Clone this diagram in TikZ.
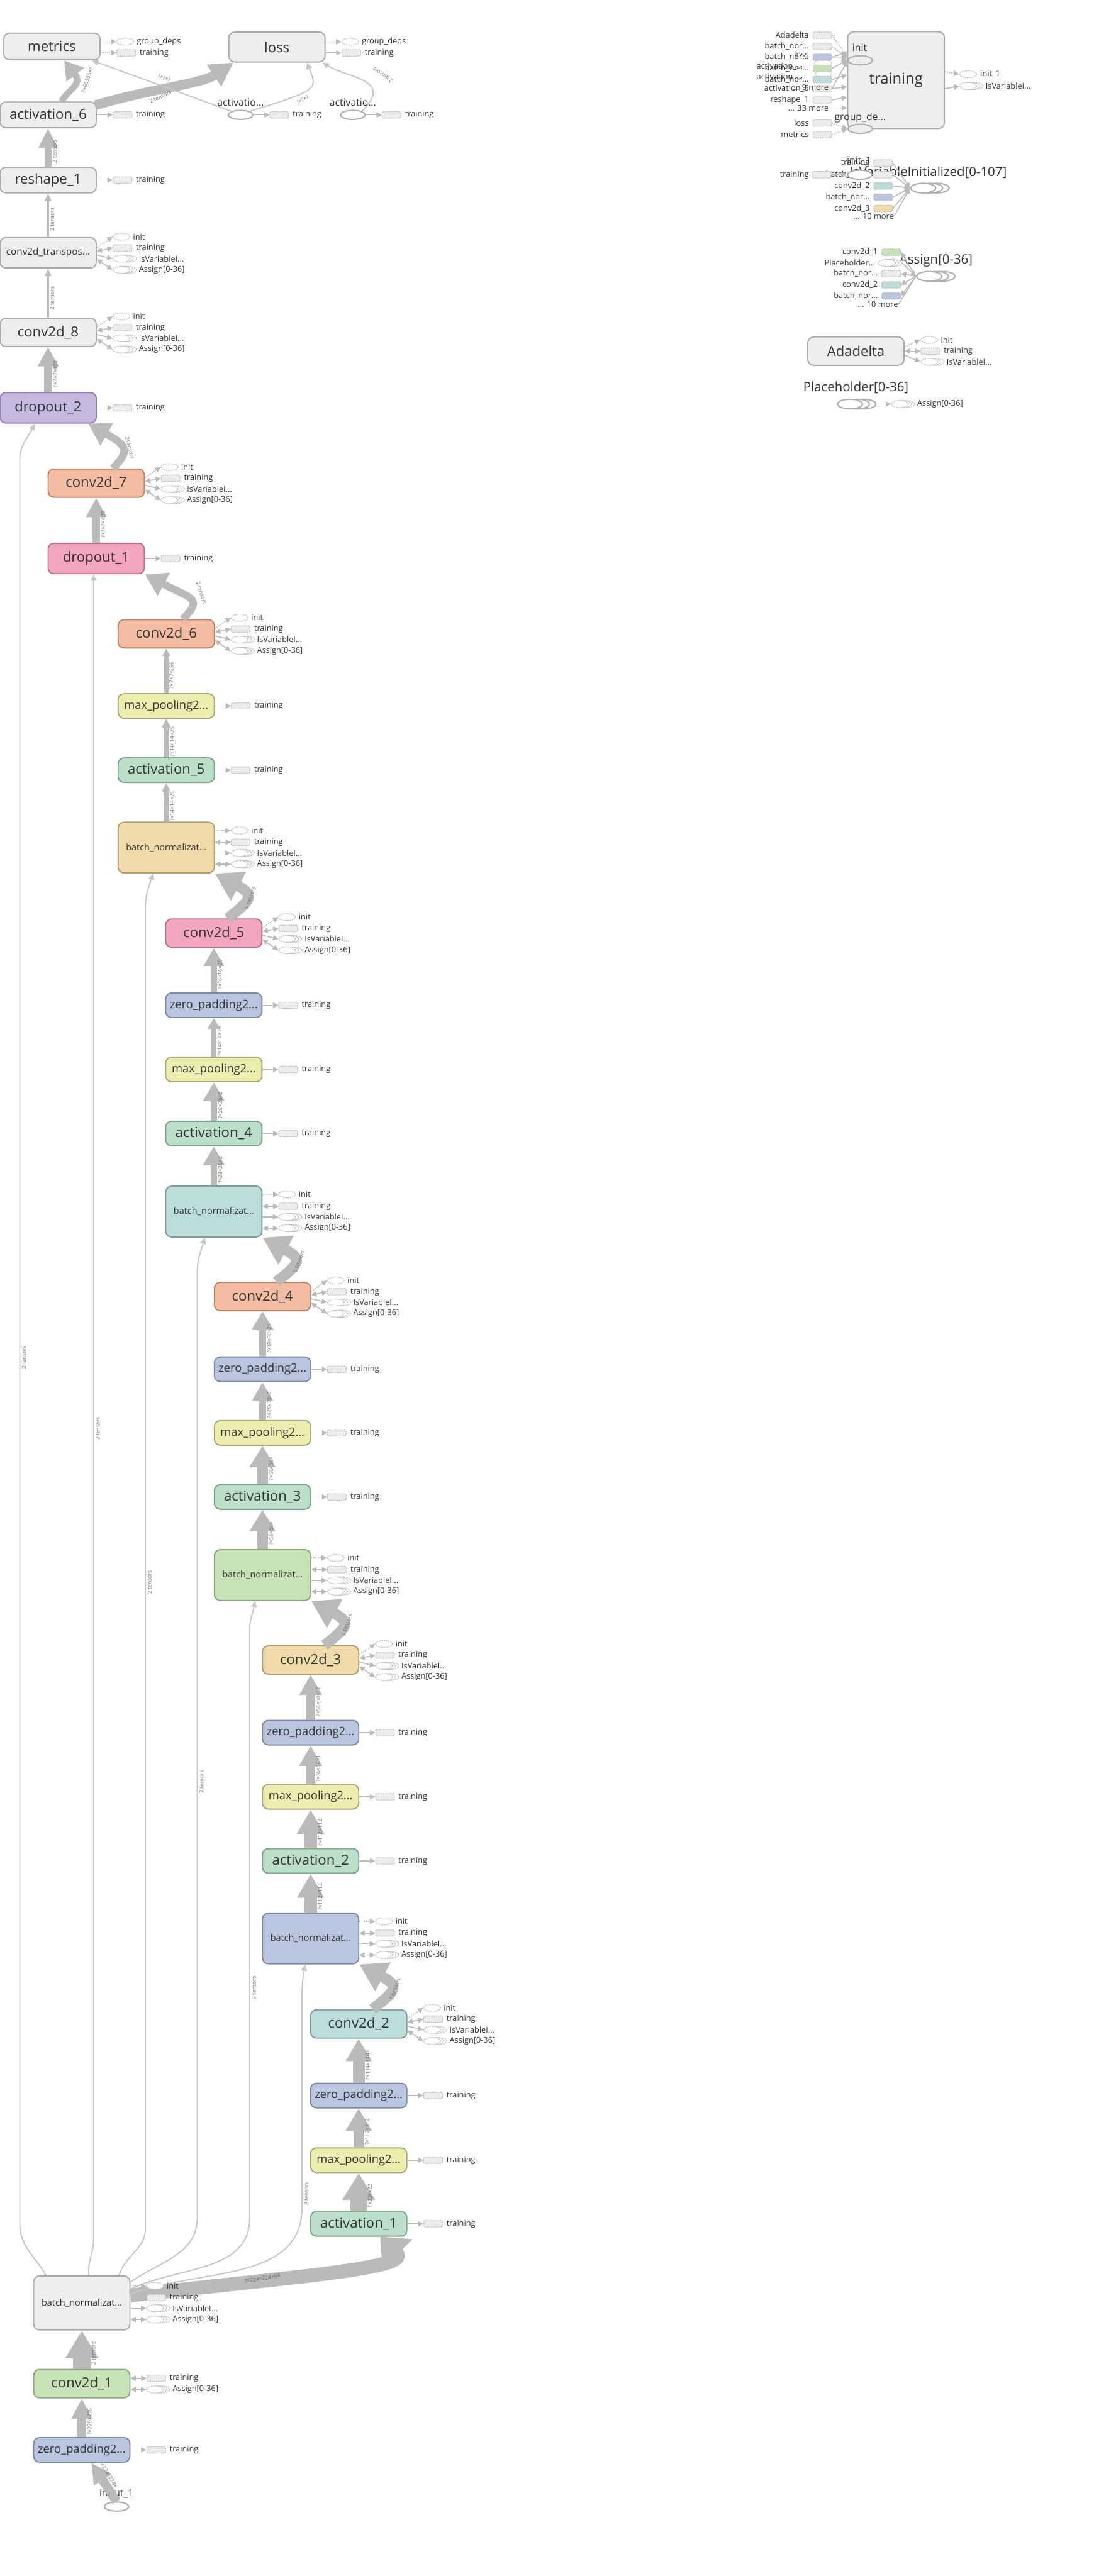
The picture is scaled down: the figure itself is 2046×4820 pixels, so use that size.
\documentclass[tikz,border=0pt]{standalone}
\usepackage{fontspec}
\setmainfont{Open Sans}
\usetikzlibrary{arrows.meta,calc,shapes.geometric}

\definecolor{ink}{HTML}{333333}
\definecolor{grayfill}{HTML}{EEEEEE}
\definecolor{grayline}{HTML}{AAAAAA}
\definecolor{purplef}{HTML}{C6B8E0}
\definecolor{purplel}{HTML}{8F80AE}
\definecolor{salmonf}{HTML}{F4BDA3}
\definecolor{salmonl}{HTML}{B4856C}
\definecolor{pinkf}{HTML}{F4A6C1}
\definecolor{pinkl}{HTML}{B3738B}
\definecolor{yellowf}{HTML}{EEEDB0}
\definecolor{yellowl}{HTML}{A8A775}
\definecolor{mintf}{HTML}{BCDFC9}
\definecolor{mintl}{HTML}{7FA08B}
\definecolor{tanf}{HTML}{F0DAA9}
\definecolor{tanl}{HTML}{B09C72}
\definecolor{bluef}{HTML}{BAC5DF}
\definecolor{bluel}{HTML}{7E88A0}
\definecolor{tealf}{HTML}{BDDCDC}
\definecolor{teall}{HTML}{819A9A}
\definecolor{greenf}{HTML}{C7E2B6}
\definecolor{greenl}{HTML}{8CA480}
\definecolor{arrgray}{HTML}{BABABA}
\definecolor{thingray}{HTML}{C6C6C6}
\definecolor{sideline}{HTML}{BBBBBB}
\definecolor{sidefill}{HTML}{ECECEC}
\definecolor{bellline}{HTML}{B0B0B0}
\definecolor{labgray}{HTML}{6E6E6E}

\newcommand{\bigf}{\fontsize{26}{28}\selectfont}
\newcommand{\midf}{\fontsize{21.5}{24}\selectfont}
\newcommand{\bnf}{\fontsize{17}{19}\selectfont}
\newcommand{\transf}{\fontsize{18}{20}\selectfont}
\newcommand{\sidef}{\fontsize{15}{16}\selectfont}
\newcommand{\edgef}{\fontsize{10}{11}\selectfont}
\newcommand{\olabf}{\fontsize{18.5}{20}\selectfont}
\newcommand{\biglabf}{\fontsize{24}{26}\selectfont}
\newcommand{\grpf}{\fontsize{28}{30}\selectfont}

\tikzset{
  op/.style={rectangle, rounded corners=11pt, line width=2.2pt, minimum width=180pt,
    minimum height=53pt, inner sep=0pt, text=ink, font=\bigf},
  short/.style={minimum height=46pt, font=\midf},
  tall/.style={minimum height=95pt, font=\bnf},
  cgray/.style={fill=grayfill, draw=grayline},
  cpurple/.style={fill=purplef, draw=purplel},
  csalmon/.style={fill=salmonf, draw=salmonl},
  cpink/.style={fill=pinkf, draw=pinkl},
  cyellow/.style={fill=yellowf, draw=yellowl},
  cmint/.style={fill=mintf, draw=mintl},
  ctan/.style={fill=tanf, draw=tanl},
  cblue/.style={fill=bluef, draw=bluel},
  cteal/.style={fill=tealf, draw=teall},
  cgreen/.style={fill=greenf, draw=greenl},
  bell/.style={ellipse, draw=bellline, line width=2.5pt, fill=white,
    minimum width=46pt, minimum height=17pt, inner sep=0pt},
  olab/.style={font=\olabf, text=ink, inner sep=0pt},
  biglab/.style={font=\biglabf, text=ink, inner sep=0pt},
  iell/.style={ellipse, draw=sideline, line width=1.3pt, dash pattern=on 2.5pt off 1.5pt,
    fill=white, minimum width=32pt, minimum height=13pt, inner sep=0pt},
  tbox/.style={rectangle, rounded corners=2pt, draw=sideline, line width=1.3pt,
    dash pattern=on 2.5pt off 1.5pt, fill=sidefill, minimum width=35pt,
    minimum height=12pt, inner sep=0pt},
  sdash/.style={draw=sideline, line width=1.3pt, dash pattern=on 2.5pt off 1.5pt, fill=white},
  stackline/.style={draw=bellline, line width=2.5pt, fill=white},
  slab/.style={anchor=west, font=\sidef, text=ink, inner sep=0pt},
  rlab/.style={anchor=east, font=\sidef, text=ink, inner sep=0pt},
  sarr/.style={draw=arrgray, line width=1.8pt, -{Triangle[length=10pt,width=10pt]}},
  sdot/.style={sarr, dash pattern=on 2pt off 2pt},
  sboth/.style={sarr, {Triangle[length=10pt,width=10pt]}-{Triangle[length=10pt,width=10pt]}},
  fatbend/.style={draw=arrgray, line width=20pt, -{Triangle[length=50pt,width=58pt]}},
  thinl/.style={draw=thingray, line width=2.2pt, -{Triangle[length=12pt,width=11pt]}},
  elab/.style={font=\edgef, text=labgray, inner sep=0pt, rotate=90, anchor=north},
  blab/.style={font=\edgef, text=labgray, inner sep=0pt},
}

% small dashed stack of ellipses
\newcommand{\minist}[2]{%
  \coordinate (#1-c) at #2;
  \filldraw[sdash] ($(#1-c)+(12,0)$) ellipse [x radius=16pt, y radius=6.5pt];
  \filldraw[sdash] ($(#1-c)+(6,0)$) ellipse [x radius=16pt, y radius=6.5pt];
  \node[iell] (#1) at (#1-c) {};
}
% big solid stack of ellipses
\newcommand{\bigst}[2]{%
  \coordinate (#1-c) at #2;
  \filldraw[stackline] ($(#1-c)+(25,0)$) ellipse [x radius=23.5pt, y radius=9pt];
  \filldraw[stackline] ($(#1-c)+(13,0)$) ellipse [x radius=23.5pt, y radius=9pt];
  \node[bell, minimum width=47pt, minimum height=18pt] (#1) at (#1-c) {};
}
% one "training" output
\newcommand{\trainside}[1]{%
  \node[tbox] (#1-t) at ($(#1.east)+(48,0)$) {};
  \node[slab] (#1-tl) at ($(#1-t.east)+(7,0)$) {training};
  \draw[sarr] (#1.east) -- (#1-t.west);
}
% outputs of a layer with variables
\newcommand{\varside}[1]{%
  \node[iell] (#1-i) at ($(#1.east)+(46,30)$) {};
  \node[slab] (#1-il) at ($(#1-i.east)+(5,0)$) {init};
  \node[tbox] (#1-t) at ($(#1.east)+(48,9)$) {};
  \node[slab] (#1-tl) at ($(#1-t.east)+(7,0)$) {training};
  \minist{#1-v}{($(#1.east)+(46,-11)$)}
  \node[slab] (#1-vl) at ($(#1-v.east)+(16,0)$) {IsVariableI...};
  \minist{#1-a}{($(#1.east)+(46,-32)$)}
  \node[slab] (#1-al) at ($(#1-a.east)+(16,0)$) {Assign[0-36]};
  \draw[sdot] ([yshift=10pt]#1.east) -- (#1-i.west);
  \draw[sboth] ([yshift=3pt]#1.east) -- (#1-t.west);
  \draw[sarr] ([yshift=-4pt]#1.east) -- (#1-v.west);
  \draw[sboth] ([yshift=-12pt]#1.east) -- (#1-a.west);
}
% outputs of a batch norm block
\newcommand{\bnside}[1]{%
  \node[iell] (#1-i) at ($(#1.east)+(46,32)$) {};
  \node[slab] (#1-il) at ($(#1-i.east)+(5,0)$) {init};
  \node[tbox] (#1-t) at ($(#1.east)+(48,10)$) {};
  \node[slab] (#1-tl) at ($(#1-t.east)+(7,0)$) {training};
  \minist{#1-v}{($(#1.east)+(46,-10)$)}
  \node[slab] (#1-vl) at ($(#1-v.east)+(16,0)$) {IsVariableI...};
  \minist{#1-a}{($(#1.east)+(46,-31)$)}
  \node[slab] (#1-al) at ($(#1-a.east)+(16,0)$) {Assign[0-36]};
  \draw[sdot] (#1.east |- #1-i) -- (#1-i.west);
  \draw[sboth] (#1.east |- #1-t) -- (#1-t.west);
  \draw[sarr] (#1.east |- #1-v) -- (#1-v.west);
  \draw[sboth] (#1.east |- #1-a) -- (#1-a.west);
}
% straight main edge: from, to, shaft, head length, head width, label
\newcommand{\flow}[6]{%
  \draw[draw=arrgray, line width=#3pt, -{Triangle[length=#4pt,width=#5pt]}] (#1.north) -- (#2.south);
  \node[elab] (#1-e) at ($(#1.north)!0.4!(#2.south)+(#3/2+2,0)$) {#6};
}
% bent edge from a conv block into the batch norm above it
\newcommand{\fivet}[3]{%
  \draw[fatbend] ([xshift=26pt]#1.north) .. controls +(45,35) and +(75,-40) .. (#2.south east);
  \node[blab, rotate=70] (#1-f) at ($(#1.north)+(68,38)$) {#3};
}

\begin{document}
\begin{tikzpicture}[x=1pt,y=1pt]
  \fill[white] (0,0) rectangle (2046,-4820);
  \useasboundingbox (0,0) rectangle (2046,-4820);

  % Main chain
  \node[op,cgray,minimum height=50pt] (metrics) at (97,-87) {metrics};
  \node[op,cgray,minimum height=56pt] (loss) at (518,-88) {loss};
  \node[op,cgray,minimum height=48pt] (act6) at (90,-215) {activation\_6};
  \node[op,cgray,minimum height=48pt] (resh1) at (90,-337) {reshape\_1};
  \node[op,cgray,minimum height=57pt,font=\transf] (convT) at (90,-473) {conv2d\_transpos...};
  \node[op,cgray] (conv8) at (90,-622) {conv2d\_8};
  \node[op,cpurple,minimum height=57pt] (drop2) at (90,-763) {dropout\_2};
  \node[op,csalmon] (conv7) at (180,-904) {conv2d\_7};
  \node[op,cpink,minimum height=57pt] (drop1) at (180,-1045) {dropout\_1};
  \node[op,csalmon] (conv6) at (311,-1186) {conv2d\_6};
  \node[op,cyellow,short] (pool5) at (311,-1321) {max\_pooling2...};
  \node[op,cmint,short,font=\bigf] (act5) at (311,-1441) {activation\_5};
  \node[op,ctan,tall] (bn5) at (311,-1586) {batch\_normalizat...};
  \node[op,cpink] (conv5) at (400,-1746) {conv2d\_5};
  \node[op,cblue,short] (pad5) at (400,-1881) {zero\_padding2...};
  \node[op,cyellow,short] (pool4) at (400,-2001) {max\_pooling2...};
  \node[op,cmint,short,font=\bigf] (act4) at (400,-2121) {activation\_4};
  \node[op,cteal,tall] (bn4) at (400,-2267) {batch\_normalizat...};
  \node[op,csalmon] (conv4) at (491,-2426) {conv2d\_4};
  \node[op,cblue,short] (pad4) at (491,-2562) {zero\_padding2...};
  \node[op,cyellow,short] (pool3) at (491,-2681) {max\_pooling2...};
  \node[op,cmint,short,font=\bigf] (act3) at (491,-2801) {activation\_3};
  \node[op,cgreen,tall] (bn3) at (491,-2947) {batch\_normalizat...};
  \node[op,ctan] (conv3) at (581,-3106) {conv2d\_3};
  \node[op,cblue,short] (pad3) at (581,-3242) {zero\_padding2...};
  \node[op,cyellow,short] (pool2) at (581,-3362) {max\_pooling2...};
  \node[op,cmint,short,font=\bigf] (act2) at (581,-3482) {activation\_2};
  \node[op,cblue,tall] (bn2) at (581,-3627) {batch\_normalizat...};
  \node[op,cteal] (conv2) at (671,-3787) {conv2d\_2};
  \node[op,cblue,short] (pad2) at (671,-3921) {zero\_padding2...};
  \node[op,cyellow,short] (pool1) at (671,-4042) {max\_pooling2...};
  \node[op,cmint,short,font=\bigf] (act1) at (671,-4161) {activation\_1};
  \node[op,cgray,tall,minimum height=101pt] (bn1) at (153,-4309) {batch\_normalizat...};
  \node[op,cgreen] (conv1) at (153,-4460) {conv2d\_1};
  \node[op,cblue,short] (pad1) at (153,-4584) {zero\_padding2...};
  \node[bell] (input1) at (218,-4690) {};
  \node[olab] (input1-l) at (218,-4666) {input\_1};

  % activation ops beside loss
  \node[bell] (actA) at (450,-215) {};
  \node[olab] (actA-l) at (450,-192) {activatio...};
  \node[bell] (actB) at (660,-215) {};
  \node[olab] (actB-l) at (660,-192) {activatio...};

  % Straight edges
  \draw[draw=arrgray, line width=17pt, -{Triangle[length=38pt,width=36pt]}] (input1.north) -- ([xshift=18pt]pad1.south);
  \node[blab, rotate=-59] (input1-e) at (203,-4630) {?×224×224×};
  \flow{pad1}{conv1}{17}{38}{36}{?×226×226}
  \flow{conv1}{bn1}{32}{52}{58}{2 tensors}
  \flow{act1}{pool1}{30}{50}{58}{?×224×22}
  \flow{pool1}{pad2}{20}{42}{46}{?×112×112}
  \flow{pad2}{conv2}{22}{42}{46}{?×114×114×}
  \flow{bn2}{act2}{24}{45}{48}{?×112×112}
  \flow{act2}{pool2}{24}{45}{48}{?×112×112}
  \flow{pool2}{pad3}{16}{38}{40}{?×56×56×1}
  \flow{pad3}{conv3}{16}{38}{40}{?×58×58×12}
  \flow{bn3}{act3}{20}{40}{46}{?×56×56×}
  \flow{act3}{pool3}{20}{40}{46}{?×56×56×}
  \flow{pool3}{pad4}{13}{35}{37}{?×28×28×2}
  \flow{pad4}{conv4}{13}{35}{39}{?×30×30×25}
  \flow{bn4}{act4}{12}{35}{38}{?×28×28×2}
  \flow{act4}{pool4}{12}{35}{38}{?×28×28×2}
  \flow{pool4}{pad5}{10}{20}{22}{?×14×14×25}
  \flow{pad5}{conv5}{11}{34}{36}{?×16×16×25}
  \flow{bn5}{act5}{10}{16}{16}{?×14×14×25}
  \flow{act5}{pool5}{10}{16}{16}{?×14×14×25}
  \flow{pool5}{conv6}{8}{14}{14}{?×7×7×256}
  \flow{drop1}{conv7}{14}{36}{36}{?×7×7×409}
  \flow{drop2}{conv8}{15}{36}{37}{?×7×7×409}
  \flow{conv8}{convT}{3}{14}{12}{2 tensors}
  \flow{convT}{resh1}{3}{14}{12}{2 tensors}
  \flow{resh1}{act6}{13}{37}{34}{2 tensors}

  % Bent edges
  \fivet{conv5}{bn5}{5 tensors}
  \fivet{conv4}{bn4}{5 tensors}
  \fivet{conv3}{bn3}{5 tensors}
  \fivet{conv2}{bn2}{5 tensors}
  \draw[draw=arrgray, line width=14pt, -{Triangle[length=40pt,width=46pt]}] ([xshift=31pt]conv7.north) .. controls +(35,35) and +(70,-40) .. ([xshift=75pt]drop2.south);
  \node[blab, rotate=-75] (conv7-f) at (243,-838) {2 tensors};
  \draw[draw=arrgray, line width=14pt, -{Triangle[length=40pt,width=46pt]}] ([xshift=31pt]conv6.north) .. controls +(40,40) and +(85,-45) .. (drop1.south east);
  \node[blab, rotate=-72] (conv6-f) at (377,-1110) {2 tensors};
  \draw[draw=arrgray, line width=26pt, -{Triangle[length=46pt,width=76pt]}] ([yshift=14pt]bn1.east) .. controls +(300,35) and +(60,-60) .. ([xshift=40pt]act1.south);
  \node[blab, rotate=9, text=black!60] (bn1-f) at (491,-4263) {?×224×224×64};

  % Long edges out of the first batch norm
  \draw[thinl] ([xshift=-67pt]bn1.north) to[out=120,in=-90] (37,-4160) -- (37,-860) to[out=90,in=-115] ([xshift=-25pt]drop2.south);
  \draw[thinl] ([xshift=13pt]bn1.north) to[out=95,in=-90] (175,-4190) -- ([xshift=-5pt]drop1.south);
  \draw[thinl] ([xshift=70pt]bn1.north) to[out=75,in=-90] (272,-4170) -- (272,-1700) to[out=90,in=-110] ([xshift=-24pt]bn5.south);
  \draw[thinl] ([yshift=39pt]bn1.east) to[out=35,in=-90] (369,-4150) -- (369,-2380) to[out=90,in=-105] ([xshift=-17pt]bn4.south);
  \draw[thinl] ([yshift=26pt]bn1.east) to[out=25,in=-90] (467,-4150) -- (467,-3050) to[out=90,in=-100] ([xshift=-14pt]bn3.south);
  \draw[thinl] ([yshift=17pt]bn1.east) to[out=20,in=-90] (565,-4130) -- (565,-3730) to[out=90,in=-100] ([xshift=-10pt]bn2.south);
  \node[elab] (lt1) at (41,-2540) {2 tensors};
  \node[elab] (lt2) at (179,-2673) {2 tensors};
  \node[elab] (lt3) at (276,-2961) {2 tensors};
  \node[elab] (lt4) at (373,-3334) {2 tensors};
  \node[elab] (lt5) at (471,-3720) {2 tensors};
  \node[elab] (lt6) at (569,-4105) {2 tensors};

  % Top edges
  \draw[draw=arrgray, line width=12pt, -{Triangle[length=34pt,width=40pt]}] ([xshift=25pt]act6.north) .. controls +(15,25) and +(35,-45) .. ([xshift=23pt]metrics.south);
  \node[blab, rotate=72] (act6-m) at (163,-150) {?×65536×?};
  \draw[draw=arrgray, line width=18pt, -{Triangle[length=44pt,width=46pt]}] ([xshift=-3pt,yshift=-7pt]act6.north east) .. controls +(100,30) and +(-60,-40) .. ([xshift=10pt]loss.south west);
  \node[blab, rotate=25] (act6-l) at (300,-181) {2 tensors};
  \draw[thinl] (actA.north west) -- ([xshift=75pt]metrics.south);
  \node[blab, rotate=-20] (actA-m) at (307,-146) {?×?×?};
  \draw[thinl] (actA.north east) .. controls +(130,40) and +(20,-50) .. ([xshift=56pt]loss.south);
  \node[blab, rotate=30] (actA-o) at (566,-187) {?×?×?};
  \draw[thinl] (actB.north east) .. controls +(60,60) and +(50,-30) .. ([xshift=-6pt]loss.south east);
  \node[blab, rotate=145] (actB-o) at (716,-140) {2 tensors};

  % Side outputs
  \node[iell] (metrics-g) at ($(metrics.east)+(46,9)$) {};
  \node[slab] (metrics-gl) at ($(metrics-g.east)+(5,0)$) {group\_deps};
  \node[tbox] (metrics-t) at ($(metrics.east)+(48,-12)$) {};
  \node[slab] (metrics-tl) at ($(metrics-t.east)+(7,0)$) {training};
  \draw[sdot] (metrics.east |- metrics-g) -- (metrics-g.west);
  \draw[sdot] (metrics.east |- metrics-t) -- (metrics-t.west);
  \node[iell] (loss-g) at ($(loss.east)+(46,10)$) {};
  \node[slab] (loss-gl) at ($(loss-g.east)+(5,0)$) {group\_deps};
  \node[tbox] (loss-t) at ($(loss.east)+(48,-11)$) {};
  \node[slab] (loss-tl) at ($(loss-t.east)+(7,0)$) {training};
  \draw[sdot] (loss.east |- loss-g) -- (loss-g.west);
  \draw[sarr] (loss.east |- loss-t) -- (loss-t.west);
  \trainside{actA}
  \trainside{actB}
  \trainside{act6}
  \trainside{resh1}
  \varside{convT}
  \varside{conv8}
  \trainside{drop2}
  \varside{conv7}
  \trainside{drop1}
  \varside{conv6}
  \trainside{pool5}
  \trainside{act5}
  \bnside{bn5}
  \varside{conv5}
  \trainside{pad5}
  \trainside{pool4}
  \trainside{act4}
  \bnside{bn4}
  \varside{conv4}
  \trainside{pad4}
  \trainside{pool3}
  \trainside{act3}
  \bnside{bn3}
  \varside{conv3}
  \trainside{pad3}
  \trainside{pool2}
  \trainside{act2}
  \bnside{bn2}
  \varside{conv2}
  \trainside{pad2}
  \trainside{pool1}
  \trainside{act1}
  \bnside{bn1}
  \node[tbox] (conv1-t) at ($(conv1.east)+(48,10)$) {};
  \node[slab] (conv1-tl) at ($(conv1-t.east)+(7,0)$) {training};
  \minist{conv1-a}{($(conv1.east)+(46,-11)$)}
  \node[slab] (conv1-al) at ($(conv1-a.east)+(16,0)$) {Assign[0-36]};
  \draw[sboth] (conv1.east |- conv1-t) -- (conv1-t.west);
  \draw[sboth] (conv1.east |- conv1-a) -- (conv1-a.west);
  \trainside{pad1}

  % Right side: training group
  \node[op,cgray,minimum width=181pt,minimum height=181pt,font=\grpf] (trg) at (1676,-150) {training};
  \node[bell,fill=grayfill] (trg-in) at (1609,-113) {};
  \node[olab] (trg-inl) at (1608,-89) {init};
  \node[bell,fill=grayfill] (trg-gd) at (1609,-241) {};
  \node[olab] (trg-gdl) at (1609,-220) {group\_de...};
  \node[iell] (trg-o1) at (1811,-139) {};
  \node[slab] (trg-o1l) at ($(trg-o1.east)+(6,0)$) {init\_1};
  \minist{trg-o2}{(1811,-161)}
  \node[slab] (trg-o2l) at ($(trg-o2.east)+(16,0)$) {IsVariableI...};
  \draw[sdot] ([yshift=16pt]trg.east) -- (trg-o1.west);
  \draw[sarr] ([yshift=-16pt]trg.east) -- (trg-o2.west);

  \node[iell,fill=none] (ov5) at (1540,-118) {};
  \node[iell,fill=none] (ov6) at (1540,-139) {};
  \node[tbox] (in1) at (1538,-66) {};
  \node[rlab] (in1l) at (1513,-66) {Adadelta};
  \node[tbox] (in2) at (1538,-87) {};
  \node[rlab] (in2l) at (1513,-87) {batch\_nor...};
  \node[tbox,fill=bluef] (in3) at (1538,-107) {};
  \node[rlab] (in3l) at (1513,-107) {batch\_nor...};
  \node[tbox,fill=greenf] (in4) at (1538,-128) {};
  \node[rlab] (in4l) at (1513,-128) {batch\_nor...};
  \node[tbox,fill=tealf] (in5) at (1538,-149) {};
  \node[rlab] (in5l) at (1513,-149) {batch\_nor...};
  \node[tbox] (in6) at (1538,-166) {};
  \node[rlab] (in6l) at (1513,-166) {activation\_6};
  \node[tbox] (in7) at (1538,-187) {};
  \node[rlab] (in7l) at (1513,-187) {reshape\_1};
  \node[rlab] (more33) at (1550,-202) {... 33 more};
  \node[tbox] (in8) at (1538,-230) {};
  \node[rlab] (in8l) at (1513,-230) {loss};
  \node[tbox] (in9) at (1538,-252) {};
  \node[rlab] (in9l) at (1513,-252) {metrics};
  \node[rlab] (ov1) at (1513,-102) {loss};
  \node[rlab] (ov2) at (1502,-124) {activation\_...};
  \node[rlab] (ov3) at (1502,-145) {activation\_...};
  \node[rlab] (ov4) at (1550,-164) {... 9 more};
  \draw[sdot] (in1.east) -- ([yshift=44pt]trg.west);
  \draw[sdot] (in2.east) -- ([yshift=42pt]trg.west);
  \draw[sdot] (in3.east) -- ([yshift=40pt]trg.west);
  \draw[sarr] (in3.east) -- ([yshift=52pt]trg.west);
  \draw[sarr] (in4.east) -- ([yshift=37pt]trg.west);
  \draw[sarr] (in5.east) -- ([yshift=10pt]trg.west);
  \draw[sarr] (in6.east) -- ([yshift=-12pt]trg.west);
  \draw[sarr] (in6.east) -- ([yshift=35pt]trg.west);
  \draw[sarr] (in7.east) -- ([yshift=-32pt]trg.west);
  \draw[sarr] (more33.east) -- (more33.east -| trg.west);
  \draw[sdot] (in8.east) -- (trg-gd.west);
  \draw[sdot] (in9.east) -- (trg-gd.west);

  % IsVariableInitialized and init_1
  \node[biglab] (ivl) at (1736,-323) {IsVariableInitialized[0-107]};
  \node[tbox] (iv1) at (1652,-305) {};
  \node[rlab] (iv1l) at (1627,-305) {training};
  \node[tbox] (iv2) at (1652,-327) {};
  \node[rlab] (iv2l) at (1627,-327) {batch\_nor...};
  \node[tbox,fill=tealf] (iv3) at (1652,-348) {};
  \node[rlab] (iv3l) at (1627,-348) {conv2d\_2};
  \node[tbox,fill=bluef] (iv4) at (1652,-369) {};
  \node[rlab] (iv4l) at (1627,-369) {batch\_nor...};
  \node[tbox,fill=tanf] (iv5) at (1652,-390) {};
  \node[rlab] (iv5l) at (1627,-390) {conv2d\_3};
  \node[rlab] (iv6) at (1672,-405) {... 10 more};
  \bigst{ivs}{(1727,-352)}
  \draw[sarr] (iv1.east) -- (ivs.west);
  \draw[sarr] (iv2.east) -- (ivs.west);
  \draw[sarr] (iv3.east) -- (ivs.west);
  \draw[sarr] (iv4.east) -- (ivs.west);
  \draw[sarr] (iv5.east) -- (ivs.west);
  \draw[sarr] (iv6.east) -- (ivs.west);
  \node[olab] (i1l) at (1607,-301) {init\_1};
  \node[rlab] (i1tl) at (1513,-327) {training};
  \node[tbox] (i1t) at (1537,-327) {};
  \node[bell] (i1) at (1608,-327) {};
  \draw[sarr] (i1t.east) -- (i1.west);

  % Assign
  \node[biglab] (asl) at (1751,-488) {Assign[0-36]};
  \node[tbox,fill=greenf] (as1) at (1667,-472) {};
  \node[rlab] (as1l) at (1642,-472) {conv2d\_1};
  \minist{as2}{(1659,-492)}
  \node[rlab] (as2l) at (1637,-492) {Placeholder...};
  \node[tbox] (as3) at (1667,-512) {};
  \node[rlab] (as3l) at (1642,-512) {batch\_nor...};
  \node[tbox,fill=tealf] (as4) at (1667,-533) {};
  \node[rlab] (as4l) at (1642,-533) {conv2d\_2};
  \node[tbox,fill=bluef] (as5) at (1667,-554) {};
  \node[rlab] (as5l) at (1642,-554) {batch\_nor...};
  \node[rlab] (as6) at (1680,-570) {... 10 more};
  \bigst{ass}{(1738,-517)}
  \draw[sarr] (ass.west) -- (as1.east);
  \draw[sarr] ([xshift=12pt]as2.east) -- (ass.west);
  \draw[sarr] (ass.west) -- (as3.east);
  \draw[sarr] (ass.west) -- (as4.east);
  \draw[sarr] (ass.west) -- (as5.east);
  \draw[draw=arrgray, line width=1.8pt] (as6.east) -- (ass.west);

  % Adadelta
  \node[op,cgray] (adad) at (1601,-657) {Adadelta};
  \node[iell] (adad-i) at ($(adad.east)+(46,21)$) {};
  \node[slab] (adad-il) at ($(adad-i.east)+(5,0)$) {init};
  \node[tbox] (adad-t) at ($(adad.east)+(48,0)$) {};
  \node[slab] (adad-tl) at ($(adad-t.east)+(7,0)$) {training};
  \minist{adad-v}{($(adad.east)+(46,-20)$)}
  \node[slab] (adad-vl) at ($(adad-v.east)+(16,0)$) {IsVariableI...};
  \draw[sdot] ([yshift=8pt]adad.east) -- (adad-i.west);
  \draw[sboth] (adad.east) -- (adad-t.west);
  \draw[sarr] ([yshift=-8pt]adad.east) -- (adad-v.west);

  % Placeholder
  \node[biglab] (phl) at (1601,-725) {Placeholder[0-36]};
  \bigst{ph}{(1590,-756)}
  \minist{ph-o}{(1683,-756)}
  \node[slab] (ph-ol) at ($(ph-o.east)+(16,0)$) {Assign[0-36]};
  \draw[sarr] ([xshift=24pt]ph.east) -- (ph-o.west);
\end{tikzpicture}
\end{document}
